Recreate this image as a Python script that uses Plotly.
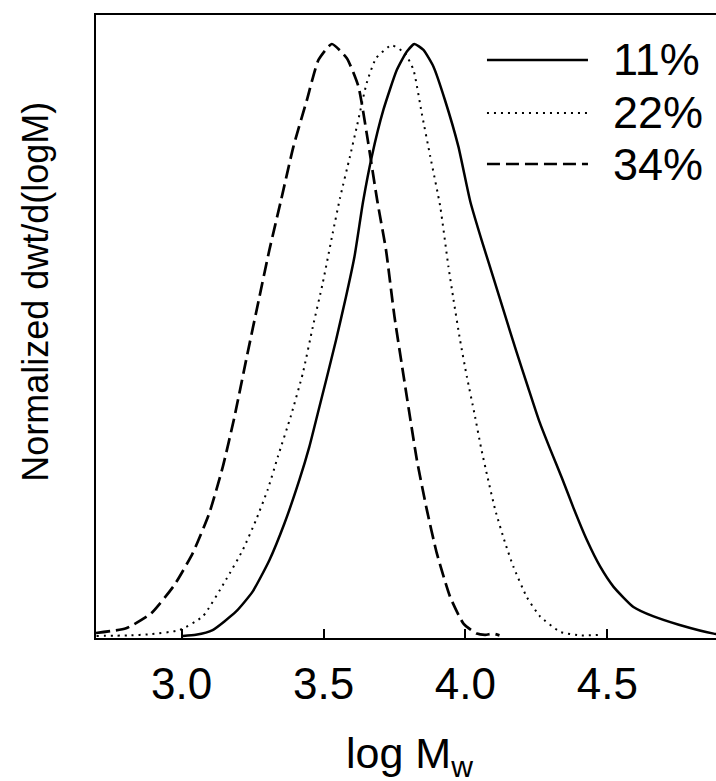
import plotly.graph_objects as go

# ---- data ----
x_11 = [3.004, 3.050, 3.109, 3.191, 3.250, 3.309, 3.362, 3.415, 3.450, 3.479, 3.509, 3.544,
        3.579, 3.609, 3.639, 3.670, 3.711, 3.758, 3.793, 3.820, 3.852, 3.887, 3.928, 3.975,
        4.017, 4.060, 4.100, 4.140, 4.180, 4.220, 4.260, 4.300, 4.340, 4.381, 4.428,
        4.475, 4.522, 4.592, 4.663, 4.752, 4.875, 4.95]
y_11 = [0.000, 0.002, 0.010, 0.041, 0.075, 0.128, 0.190, 0.264, 0.320, 0.375, 0.432, 0.500,
        0.573, 0.641, 0.733, 0.810, 0.889, 0.956, 0.987, 1.000, 0.990, 0.962, 0.905, 0.827,
        0.734, 0.664, 0.603, 0.541, 0.480, 0.421, 0.363, 0.314, 0.267, 0.216, 0.162,
        0.117, 0.083, 0.049, 0.033, 0.019, 0.004, 0.000]

x_22 = [2.700, 2.810, 2.892, 2.992, 3.074, 3.156, 3.215, 3.262, 3.303, 3.339, 3.385, 3.427,
        3.462, 3.497, 3.532, 3.558, 3.593, 3.617, 3.652, 3.685, 3.740, 3.787, 3.817, 3.846,
        3.876, 3.911, 3.940, 3.958, 3.981, 4.005, 4.032, 4.055, 4.078, 4.105, 4.140, 4.169,
        4.216, 4.263, 4.334, 4.405, 4.475]
y_22 = [0.000, 0.001, 0.003, 0.010, 0.033, 0.095, 0.145, 0.196, 0.247, 0.303, 0.372, 0.444,
        0.522, 0.596, 0.680, 0.740, 0.810, 0.860, 0.934, 0.976, 0.998, 0.984, 0.956, 0.883,
        0.810, 0.726, 0.624, 0.568, 0.500, 0.438, 0.375, 0.318, 0.268, 0.213, 0.157, 0.117,
        0.066, 0.033, 0.007, 0.001, 0.002]

x_34 = [2.698, 2.804, 2.892, 2.974, 3.039, 3.097, 3.145, 3.185, 3.227, 3.274, 3.309, 3.350,
        3.394, 3.441, 3.482, 3.529, 3.582, 3.623, 3.652, 3.689, 3.720, 3.750, 3.785, 3.829,
        3.864, 3.899, 3.946, 3.993, 4.040, 4.070, 4.098, 4.120]
y_34 = [0.005, 0.013, 0.038, 0.086, 0.140, 0.207, 0.286, 0.368, 0.466, 0.573, 0.652, 0.736,
        0.827, 0.905, 0.973, 1.000, 0.976, 0.928, 0.849, 0.736, 0.652, 0.539, 0.430, 0.297,
        0.213, 0.140, 0.066, 0.021, 0.004, 0.002, 0.004, 0.001]

series_names = ["11%", "22%", "34%"]
x_ticks = [3.0, 3.5, 4.0, 4.5]
x_tick_labels = ["3.0", "3.5", "4.0", "4.5"]

FONT = "Liberation Sans, Arial, sans-serif"

fig = go.Figure()
fig.add_trace(go.Scatter(x=x_11, y=y_11, mode="lines", name=series_names[0],
                         line=dict(color="black", width=2.5, shape="spline", smoothing=0.5)))
fig.add_trace(go.Scatter(x=x_22, y=y_22, mode="lines", name=series_names[1],
                         line=dict(color="black", width=2, dash="2px,5px", shape="spline", smoothing=0.5)))
fig.add_trace(go.Scatter(x=x_34, y=y_34, mode="lines", name=series_names[2],
                         line=dict(color="black", width=2.7, dash="14px,6px", shape="spline", smoothing=0.5)))

# manual legend (long line keys as in the reference)
leg_y = [0.9278, 0.8427, 0.7608]
leg_dash = ["solid", "2px,5px", "13px,6px"]
leg_w = [2.5, 2, 2.7]
for name, yy, d, w in zip(series_names, leg_y, leg_dash, leg_w):
    fig.add_shape(type="line", xref="paper", yref="paper", x0=0.6306, x1=0.7935, y0=yy, y1=yy,
                  line=dict(color="black", width=w, dash=d))
    fig.add_annotation(xref="paper", yref="paper", x=0.830, y=yy, text=name, showarrow=False,
                       xanchor="left", yanchor="middle", font=dict(family=FONT, size=45, color="black"))

# axis titles
fig.add_annotation(xref="paper", yref="paper", x=-0.098, y=0.556, text="Normalized dwt/d(logM)",
                   textangle=-90, showarrow=False, xanchor="center", yanchor="middle",
                   font=dict(family=FONT, size=36, color="black"))
fig.add_annotation(xref="paper", yref="paper", x=0.505, y=-0.19, text="log M<sub>w</sub>",
                   showarrow=False, xanchor="center", yanchor="middle",
                   font=dict(family=FONT, size=43, color="black"))

fig.update_layout(
    width=716, height=781,
    margin=dict(l=96, r=0, t=15, b=143),
    paper_bgcolor="white", plot_bgcolor="white",
    showlegend=False,
    xaxis=dict(range=[2.698, 4.883], tickvals=x_ticks, ticktext=x_tick_labels,
               ticks="inside", ticklen=9, tickwidth=1.5, tickcolor="black",
               showline=True, linecolor="black", linewidth=2, mirror=True,
               showgrid=False, zeroline=False, ticklabelstandoff=6,
               tickfont=dict(family=FONT, size=44, color="black")),
    yaxis=dict(range=[-0.0034, 1.049], showticklabels=False, ticks="",
               showline=True, linecolor="black", linewidth=2, mirror=False,
               showgrid=False, zeroline=False),
)

fig.write_html("out.html", config={"displayModeBar": False},
               post_script="document.body.style.margin='0';document.body.style.padding='0';"
                           "document.body.style.overflow='hidden';")
